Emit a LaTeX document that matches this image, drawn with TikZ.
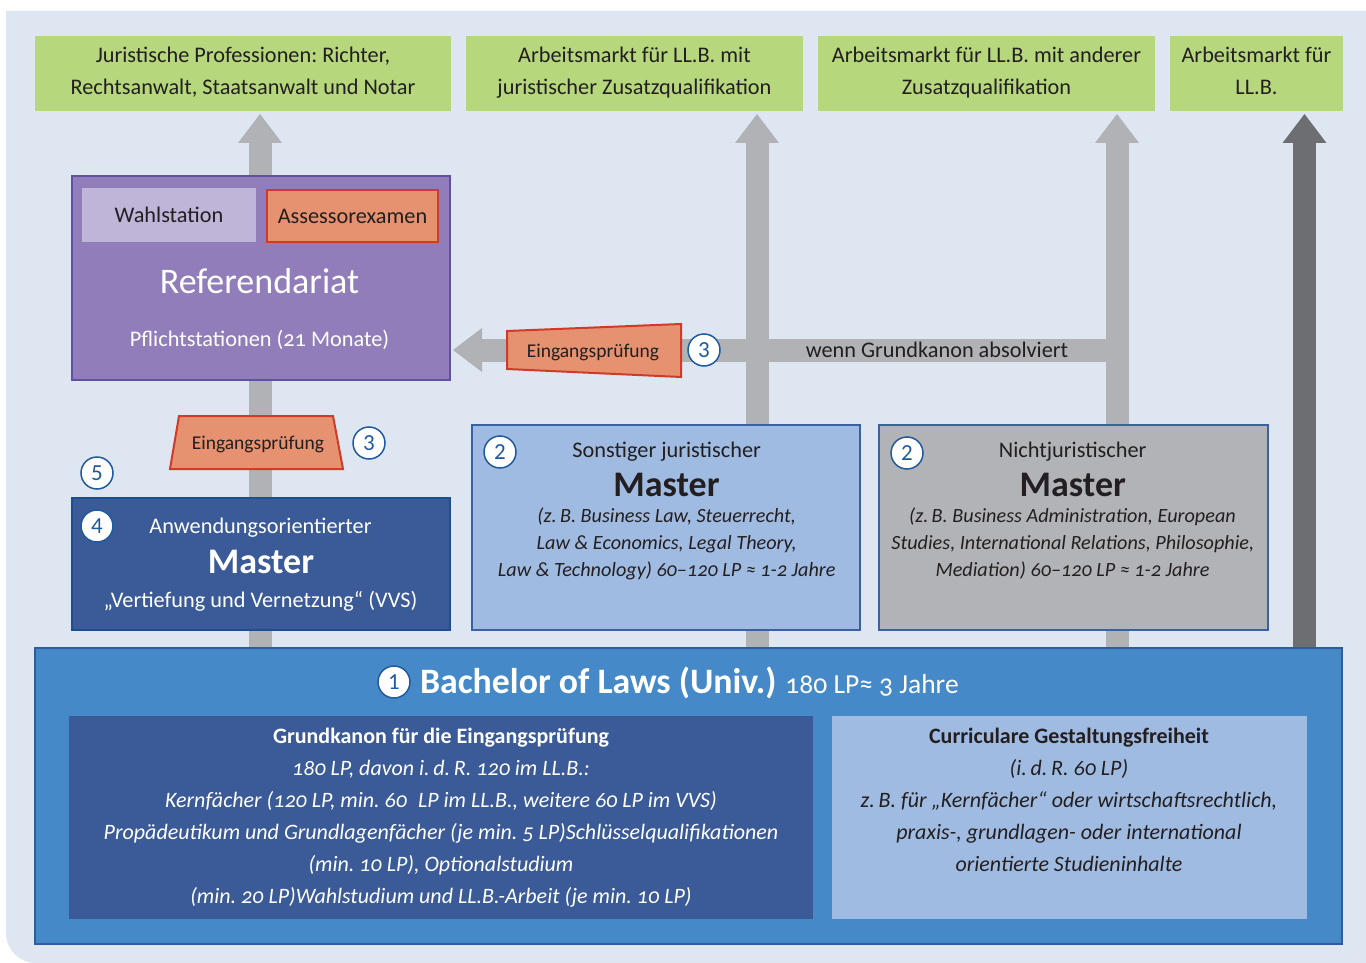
\documentclass[tikz,border=0pt]{standalone}
\usepackage{fontspec}
\setmainfont{Carlito}[Numbers=OldStyle]
\newfontfamily\liningfont{Carlito}
\usetikzlibrary{arrows.meta}
\frenchspacing
\definecolor{bgc}{HTML}{DEE6F1}
\definecolor{greenc}{HTML}{B6D77C}
\definecolor{arrgray}{HTML}{B1B2B5}
\definecolor{arrdark}{HTML}{6D6E72}
\definecolor{purplec}{HTML}{907DB9}
\definecolor{purpleb}{HTML}{5E50A2}
\definecolor{lavc}{HTML}{BEB5D8}
\definecolor{salmonc}{HTML}{E6916F}
\definecolor{redb}{HTML}{D13A28}
\definecolor{darkblue}{HTML}{3A5A98}
\definecolor{darkblueb}{HTML}{1F4E8E}
\definecolor{lightblue}{HTML}{A0BBE2}
\definecolor{lightblueb}{HTML}{3A62A3}
\definecolor{grayc}{HTML}{B2B3B6}
\definecolor{bachc}{HTML}{4589C9}
\definecolor{bachb}{HTML}{2E5C9F}
\definecolor{numblue}{HTML}{1F5B9E}
\definecolor{darktext}{HTML}{231F20}
\pgfdeclarelayer{back}
\pgfdeclarelayer{arrowlayer}
\pgfsetlayers{back,arrowlayer,main}
\begin{document}
\begin{tikzpicture}[x=1pt,y=-1pt,
  box/.style={rectangle, inner sep=0pt, outer sep=0pt},
  bord/.style={draw, line width=2pt},
  txt/.style={inner sep=0pt, outer sep=0pt, anchor=base, text=darktext},
  wtxt/.style={txt, text=white},
  fnorm/.style={font=\fontsize{22.3}{26}\selectfont},
  fital/.style={font=\itshape\fontsize{20.2}{24}\selectfont},
  fbital/.style={font=\itshape\fontsize{22}{26}\selectfont},
  fbold/.style={font=\bfseries\fontsize{22}{26}\selectfont},
  fbig/.style={font=\fontsize{36}{40}\selectfont},
  fbigb/.style={font=\bfseries\fontsize{36}{40}\selectfont},
  fsmall/.style={font=\fontsize{19.5}{24}\selectfont},
  num/.style={circle, draw=numblue, line width=1.5pt, fill=white, minimum size=32pt, inner sep=0pt, text=numblue, font=\liningfont\fontsize{23}{23}\selectfont},
  garrow/.style={draw=arrgray, line width=23pt, shorten >=3pt, -{Triangle[length=29pt,width=44pt,line width=0pt]}},
  darrow/.style={garrow, draw=arrdark},
  trap/.style={fill=salmonc, draw=redb, line width=2pt, line join=miter}
]
\useasboundingbox (0,0) rectangle (1366,963);
\begin{pgfonlayer}{back}
  \fill[white] (0,0) rectangle (1366,963);
  \fill[bgc] (6,11) -- (1366,11) -- (1366,963) -- (36,963) .. controls (19.4,963) and (6,949.6) .. (6,933) -- cycle;
\end{pgfonlayer}

% top green boxes
\node[box, fill=greenc, minimum width=416pt, minimum height=75pt] (g1) at (243,73.5) {};
\node[box, fill=greenc, minimum width=337pt, minimum height=75pt] (g2) at (634.5,73.5) {};
\node[box, fill=greenc, minimum width=337pt, minimum height=75pt] (g3) at (986.5,73.5) {};
\node[box, fill=greenc, minimum width=173pt, minimum height=75pt] (g4) at (1256.5,73.5) {};
\node[txt, fnorm] (g1a) at (243,63) {Juristische Professionen: Richter,};
\node[txt, fnorm] (g1b) at (243,95) {Rechtsanwalt, Staatsanwalt und Notar};
\node[txt, fnorm] (g2a) at (634.5,63) {Arbeitsmarkt für LL.B. mit};
\node[txt, fnorm] (g2b) at (634.5,95) {juristischer Zusatzqualifikation};
\node[txt, fnorm] (g3a) at (986.5,63) {Arbeitsmarkt für LL.B. mit anderer};
\node[txt, fnorm] (g3b) at (986.5,95) {Zusatzqualifikation};
\node[txt, fnorm] (g4a) at (1256.5,63) {Arbeitsmarkt für};
\node[txt, fnorm] (g4b) at (1256.5,95) {LL.B.};

% Referendariat
\node[box, bord, fill=purplec, draw=purpleb, minimum width=378pt, minimum height=204pt] (ref) at (261,278) {};
\node[box, fill=lavc, minimum width=174pt, minimum height=54pt] (wahl) at (169,215) {};
\node[box, bord, fill=salmonc, draw=redb, minimum width=171pt, minimum height=52pt] (ass) at (352.5,216) {};
\node[txt, fnorm] (wahlt) at (169,222.5) {Wahlstation};
\node[txt, fnorm] (asst) at (352.5,223) {Assessorexamen};
\node[wtxt, fbig] (reft) at (259.5,293) {Referendariat};
\node[wtxt, fnorm] (pflt) at (259.5,346) {Pflichtstationen (21 Monate)};

% horizontal Eingangspruefung
\draw[trap] (507,331) -- (681,324) -- (681,377) -- (507,369) -- cycle;
\node[txt, fsmall] (ep1) at (593,357) {Eingangsprüfung};
\node[num] (n3a) at (704,350) {3};
\node[txt, fnorm] (wenn) at (937,357) {wenn Grundkanon absolviert};

% lower Eingangspruefung
\draw[trap] (179,416) -- (333,416) -- (343,469) -- (170,469) -- cycle;
\node[txt, fsmall] (ep2) at (258,449) {Eingangsprüfung};
\node[num] (n3b) at (369,443) {3};
\node[num] (n5) at (97,473) {5};

% Master 4
\node[box, bord, fill=darkblue, draw=darkblueb, minimum width=378pt, minimum height=132pt] (m4) at (261,564) {};
\node[num] (n4) at (97,526) {4};
\node[wtxt, fnorm] (m4a) at (260.5,533.5) {Anwendungsorientierter};
\node[wtxt, fbigb] (m4b) at (261,573.5) {Master};
\node[wtxt, fnorm] (m4c) at (260.5,607) {„Vertiefung und Vernetzung“ (VVS)};

% Master sonstiger juristischer
\node[box, bord, fill=lightblue, draw=lightblueb, minimum width=388pt, minimum height=205pt] (msj) at (666,527.5) {};
\node[num] (n2a) at (500,452) {2};
\node[txt, fnorm] (msja) at (666.7,457) {Sonstiger juristischer};
\node[txt, fbigb] (msjb) at (666.5,496) {Master};
\node[txt, fital] (msjc) at (666.7,522) {(z.\,B. Business Law, Steuerrecht,};
\node[txt, fital] (msjd) at (666.7,549.5) {Law \& Economics, Legal Theory,};
\node[txt, fital] (msje) at (666.7,576) {Law \& Technology) 60–120 LP ≈ 1-2 Jahre};

% Master nichtjuristischer
\node[box, bord, fill=grayc, draw=lightblueb, minimum width=389pt, minimum height=205pt] (mnj) at (1073.5,527.5) {};
\node[num] (n2b) at (907,453) {2};
\node[txt, fnorm] (mnja) at (1072.7,457) {Nichtjuristischer};
\node[txt, fbigb] (mnjb) at (1072.8,496) {Master};
\node[txt, fital] (mnjc) at (1072.5,522) {(z.\,B. Business Administration, European};
\node[txt, fital] (mnjd) at (1072.8,549.5) {Studies, International Relations, Philosophie,};
\node[txt, fital] (mnje) at (1072.5,576) {Mediation) 60–120 LP ≈ 1-2 Jahre};

% Bachelor
\node[box, bord, fill=bachc, draw=bachb, minimum width=1307pt, minimum height=296pt] (bach) at (688.5,796) {};
\node[num] (n1) at (394,682) {1};
\node[wtxt, anchor=base west] (bacht) at (420,693) {{\bfseries\fontsize{35.8}{40}\selectfont Bachelor of Laws (Univ.)}\hspace{9pt}{\fontsize{27.5}{30}\selectfont 180 LP≈ 3 Jahre}};
\node[box, fill=darkblue, minimum width=744pt, minimum height=203pt] (gk) at (441,817.5) {};
\node[box, fill=lightblue, minimum width=475pt, minimum height=203pt] (cg) at (1069.5,817.5) {};
\node[wtxt, fbold] (gk1) at (441,743) {Grundkanon für die Eingangsprüfung};
\node[wtxt, fbital] (gk2) at (441,775) {180 LP, davon i.\,d.\,R. 120 im LL.B.:};
\node[wtxt, fbital] (gk3) at (441,807) {Kernfächer (120 LP, min. 60\hspace{0.5em}LP im LL.B., weitere 60 LP im VVS)};
\node[wtxt, fbital] (gk4) at (441,839) {Propädeutikum und Grundlagenfächer (je min. 5 LP)Schlüsselqualifikationen};
\node[wtxt, fbital] (gk5) at (441,871) {(min. 10 LP), Optionalstudium};
\node[wtxt, fbital] (gk6) at (441,903) {(min. 20 LP)Wahlstudium und LL.B.-Arbeit (je min. 10 LP)};
\node[txt, fbold] (cg1) at (1069,743) {Curriculare Gestaltungsfreiheit};
\node[txt, fbital] (cg2) at (1069,775) {(i.\,d.\,R. 60 LP)};
\node[txt, fbital] (cg3) at (1069,807) {z.\,B. für „Kernfächer“ oder wirtschaftsrechtlich,};
\node[txt, fbital] (cg4) at (1069,839) {praxis-, grundlagen- oder international};
\node[txt, fbital] (cg5) at (1069,871) {orientierte Studieninhalte};

% arrows
\coordinate (ca1) at (260,0);
\coordinate (ca2) at (757,0);
\coordinate (ca3) at (1117,0);
\coordinate (ca4) at (1304.5,0);
\coordinate (hc) at (1117,350);
\begin{pgfonlayer}{arrowlayer}
  \draw[garrow] (ca1 |- bach.north) -- (ca1 |- g1.south);
  \draw[garrow] (ca2 |- bach.north) -- (ca2 |- g2.south);
  \draw[garrow] (ca3 |- bach.north) -- (ca3 |- g3.south);
  \draw[darrow] (ca4 |- bach.north) -- (ca4 |- g4.south);
  \draw[garrow] (hc) -- (hc -| ref.east);
\end{pgfonlayer}
\end{tikzpicture}
\end{document}
